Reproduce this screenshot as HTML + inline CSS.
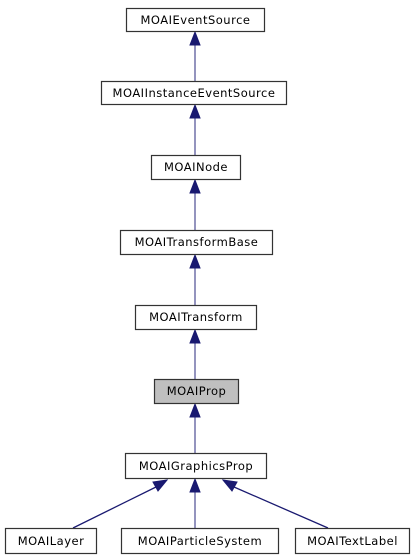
<!DOCTYPE html>
<html><head><meta charset="utf-8"><style>
html,body{margin:0;padding:0;background:#fff;}
svg{display:block;}
text{font-family:"DejaVu Sans","Liberation Sans",sans-serif;font-size:11.5px;letter-spacing:0.5px;fill:#000;}
</style></head><body>
<svg width="417" height="560" viewBox="0 0 417 560" xmlns="http://www.w3.org/2000/svg">
<g stroke="#5a5a9a" stroke-width="1.3">
<line x1="195" y1="45" x2="195" y2="81"/>
<line x1="195" y1="118" x2="195" y2="155"/>
<line x1="195" y1="193" x2="195" y2="230"/>
<line x1="195" y1="268" x2="195" y2="305"/>
<line x1="195" y1="343" x2="195" y2="379"/>
<line x1="195" y1="417" x2="195" y2="453"/>
<line x1="195" y1="492" x2="195" y2="528"/>
</g>
<g stroke="#191970" stroke-width="1.3">
<line x1="73" y1="528" x2="156" y2="487"/>
<line x1="328" y1="528" x2="234" y2="487"/>
</g>
<g fill="#191970" stroke="#191970">
<polygon points="195,32 190,45 200,45"/>
<polygon points="195,105 190,118 200,118"/>
<polygon points="195,180 190,193 200,193"/>
<polygon points="195,255 190,268 200,268"/>
<polygon points="195,330 190,343 200,343"/>
<polygon points="195,404 190,417 200,417"/>
<polygon points="195,479 190,492 200,492"/>
<polygon points="167,480 153,482 158,491"/>
<polygon points="223,480 237,482 232,491"/>
</g>
<g stroke="#333" stroke-width="1.2" fill="#fff">
<rect x="126.5" y="8.5" width="138" height="23"/>
<rect x="101.5" y="81.5" width="185" height="23"/>
<rect x="151.5" y="155.5" width="89" height="24"/>
<rect x="120.5" y="230.5" width="152" height="24"/>
<rect x="135.5" y="305.5" width="121" height="24"/>
<rect x="154.5" y="379.5" width="84" height="24" fill="#bfbfbf"/>
<rect x="125.5" y="453.5" width="141" height="25"/>
<rect x="5.5" y="528.5" width="91" height="25"/>
<rect x="121.5" y="528.5" width="157" height="25"/>
<rect x="295.5" y="528.5" width="114" height="25"/>
</g>
<g text-anchor="middle">
<text x="195.5" y="24">MOAIEventSource</text>
<text x="194" y="97">MOAIInstanceEventSource</text>
<text x="196" y="171">MOAINode</text>
<text x="196.5" y="246">MOAITransformBase</text>
<text x="196" y="321">MOAITransform</text>
<text x="196.5" y="395">MOAIProp</text>
<text x="196" y="470">MOAIGraphicsProp</text>
<text x="51" y="545">MOAILayer</text>
<text x="200" y="545">MOAIParticleSystem</text>
<text x="352.5" y="545">MOAITextLabel</text>
</g>
</svg>
</body></html>
